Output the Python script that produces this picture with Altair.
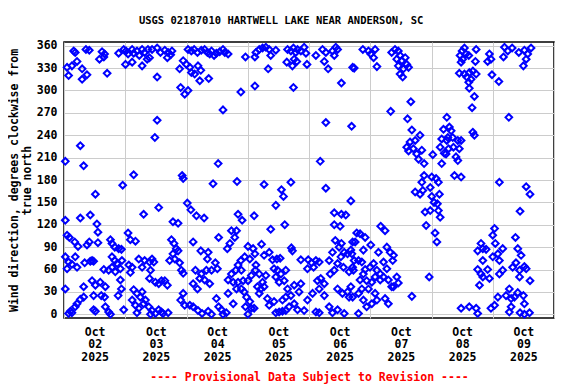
import altair as alt
import pandas as pd

# Time = hours since 2025-10-02 00:00, direction = degrees clockwise from true north
seg1_hours = [3.8, 4.4, 8.6, 9.9, 14.9, 15.9, 13.9, 15.6, 21.4, 23.4, 24.3, 25.1, 26.7, 27.3, 28.6, 29.5, 30.6,
              31.6, 32.9, 33.5, 34.5, 36.5, 37.8, 24.1, 26.7, 30.6, 32.6, 1.2, 3.1, 5.1, 1.8, 7.1, 7.1, 9.0, 16.9, 36.5,
              36.5, 35.6, 6.4, 0.5, 7.7, 27.3, 23.0, 12.3, 37.1, 31.2, 0.5, 6.4, 10.3, 12.9, 13.3, 25.1, 26.0, 28.0,
              1.2, 2.1, 4.2, 5.5, 9.0, 9.9, 13.3, 18.2, 18.8, 19.9, 21.4, 22.5, 0.5, 4.4, 11.0, 11.6, 10.3, 8.1, 18.8,
              19.9, 20.8, 22.7, 22.1, 18.8, 17.5, 15.6, 20.1, 25.4, 26.7, 26.0, 29.3, 30.6, 31.6, 33.5, 34.5, 35.2,
              1.2, 3.1, 5.1, 1.8, 33.9, 33.5, 35.8, 37.1, 38.2,
              0.5, 7.7, 11.0, 12.3, 14.2, 16.2, 11.6, 14.6, 15.9, 7.7, 6.4, 5.1, 4.4, 2.5, 1.8, 3.1, 11.6, 12.3, 16.2,
              17.5, 18.2, 21.2, 22.5, 22.1, 23.4, 27.3, 28.6, 29.9, 30.6, 26.7, 28.0, 29.3, 31.2, 31.9, 33.2, 34.5,
              35.8, 33.9, 37.1, 38.2, 28.6]
seg1_deg = [353, 351, 355, 354, 352, 349, 342, 345, 350, 355, 353, 349, 355, 350, 353, 347, 355,
            351, 355, 344, 355, 357, 351, 335, 338, 333, 342, 331, 333, 339, 320, 329, 315, 321, 323, 318,
            260, 237, 226, 205, 199, 187, 173, 161, 143, 134, 126, 129, 133, 121, 110, 109, 100, 98,
            106, 103, 97, 91, 93, 97, 96, 100, 95, 90, 88, 87, 77, 77, 72, 71, 71, 69, 77,
            72, 68, 72, 61, 63, 59, 60, 57, 66, 63, 56, 74, 63, 72, 70, 74, 70,
            61, 67, 63, 70, 59, 48, 43, 41, 45,
            34, 37, 45, 39, 43, 37, 25, 25, 23, 23, 20, 14, 10, 4, 1, 2, 6, 4, 10,
            3, 0, 25, 34, 46, 6, 33, 28, 23, 30, 19, 12, 8, 14, 19, 10, 5,
            1, 0, 6, 3, 2]

seg2 = [(39.5, 354), (40.8, 351), (41.8, 348), (42.3, 353), (40.5, 344), (48.6, 355), (49.9, 353), (51.0, 355),
        (52.3, 351), (53.8, 354), (55.1, 355), (56.2, 351), (57.1, 349), (57.8, 353), (58.8, 347), (59.7, 350),
        (61.0, 352), (62.3, 355), (63.0, 351), (64.3, 349), (46.7, 340), (48.0, 335), (49.3, 331), (49.9, 324),
        (51.2, 322), (52.5, 333), (53.6, 327), (53.2, 313), (56.7, 316), (45.3, 329), (45.7, 304), (47.3, 295),
        (48.6, 300), (69.3, 298), (71.1, 345), (74.8, 306), (74.8, 345),
        (62.3, 274), (60.4, 202), (46.3, 186), (46.7, 182), (58.4, 175), (67.8, 178), (48.3, 149), (49.7, 140),
        (51.9, 132), (54.9, 129), (42.7, 124), (44.7, 122), (68.2, 134), (69.8, 126), (74.5, 132),
        (50.6, 97), (60.6, 103), (42.1, 100), (43.1, 95), (44.0, 88), (44.7, 85), (42.7, 81), (41.4, 72),
        (43.4, 74), (45.3, 69), (46.0, 59), (46.7, 55), (53.6, 85), (56.5, 83), (56.2, 74), (65.6, 112),
        (67.6, 112), (66.9, 103), (65.0, 95), (64.0, 88), (72.1, 91), (74.1, 88), (74.8, 81), (72.8, 74),
        (70.8, 77), (69.3, 72), (68.2, 66), (67.3, 59), (65.6, 54), (69.5, 59), (59.3, 69), (60.1, 61),
        (57.8, 59), (55.8, 59), (53.8, 54), (51.5, 59),
        (50.6, 41), (52.3, 34), (53.2, 48), (55.1, 46), (57.1, 41), (64.3, 46), (66.3, 43), (68.2, 43),
        (70.2, 45), (72.1, 45), (73.4, 52), (75.0, 59), (39.5, 45), (40.5, 39),
        (46.7, 28), (45.7, 19), (47.3, 12), (49.3, 12), (50.6, 10), (52.5, 5), (54.1, 1), (56.5, 4), (57.8, 0),
        (59.7, 21), (60.6, 10), (61.7, 6), (63.6, 2), (62.3, 0), (66.3, 14), (70.6, 30), (71.5, 23), (72.8, 17),
        (71.1, 10), (73.4, 8), (72.1, 0), (64.3, 28), (67.6, 34), (69.5, 34), (38.8, 1), (40.8, 2)]

seg3 = [(75.2, 351), (76.5, 355), (77.8, 357), (79.1, 358), (80.4, 355), (81.0, 347), (83.0, 354), (87.6, 355),
        (88.9, 353), (89.9, 357), (90.8, 351), (91.5, 355), (92.8, 353), (94.1, 358), (94.8, 350), (90.2, 342),
        (91.2, 339), (89.5, 333), (87.3, 338), (95.2, 335), (98.7, 347), (101.3, 355), (102.6, 351), (102.0, 339),
        (103.5, 329), (105.2, 353), (106.5, 358), (107.2, 355), (105.9, 347), (80.0, 329), (89.9, 304),
        (108.7, 310), (113.1, 331),
        (102.6, 257), (112.7, 252), (100.4, 205), (78.4, 174), (85.2, 167), (86.0, 158), (88.9, 177),
        (102.6, 169), (83.0, 146), (112.4, 152), (81.0, 114), (86.5, 120), (105.9, 136), (108.7, 134),
        (110.4, 133), (105.9, 120), (108.2, 118), (106.3, 99), (113.1, 97),
        (77.4, 94), (78.4, 79), (80.4, 83), (81.7, 73), (83.4, 74), (84.7, 75), (89.1, 89), (89.5, 85),
        (92.8, 73), (95.7, 73), (97.0, 69), (98.7, 72), (95.4, 61), (97.8, 63), (100.0, 70), (103.9, 72),
        (105.2, 83), (107.8, 90), (108.7, 95), (109.8, 83), (111.1, 81), (112.4, 86), (108.5, 77), (107.2, 68),
        (105.9, 59), (104.3, 54), (109.5, 63), (111.7, 57), (113.1, 63),
        (75.2, 66), (76.5, 54), (79.1, 52), (77.8, 43), (82.3, 61), (83.7, 59), (85.0, 54), (83.0, 50),
        (86.9, 59), (86.3, 45), (84.3, 43), (87.6, 34), (90.2, 39), (92.8, 41), (92.1, 30), (88.9, 25),
        (86.9, 23), (85.6, 19), (82.3, 17), (80.4, 12), (79.7, 21), (77.1, 34), (78.4, 37), (75.8, 37), (76.5, 28),
        (74.5, 8), (83.0, 2), (84.3, 3), (85.6, 4), (86.9, 5), (88.2, 10), (90.2, 14), (91.5, 6), (94.1, 5),
        (95.4, 19), (97.4, 28), (99.3, 45), (100.6, 48), (102.0, 41), (100.0, 34), (102.0, 25), (98.7, 3),
        (100.0, 2), (103.9, 10), (105.2, 2), (107.2, 6), (109.8, 1), (107.2, 34), (109.1, 28), (111.1, 30),
        (112.4, 37), (111.7, 23)]

seg4 = [(117.1, 355), (119.3, 353), (120.2, 349), (121.9, 355), (121.3, 344), (122.6, 332), (113.7, 330),
        (128.4, 351), (129.7, 355), (131.0, 353), (131.7, 347), (130.4, 342), (132.4, 340), (133.7, 344),
        (134.3, 335), (133.0, 329), (131.7, 322), (132.7, 318), (135.0, 331), (131.0, 333),
        (135.9, 285), (128.0, 272), (134.6, 262), (136.3, 247), (139.5, 240), (137.6, 233), (135.6, 231),
        (135.0, 219), (134.3, 224), (136.9, 222), (138.2, 215), (140.2, 220), (138.9, 208), (141.1, 202),
        (144.5, 214), (148.0, 202), (149.0, 216), (150.0, 264), (148.7, 248), (148.0, 235), (150.0, 233),
        (147.4, 224),
        (141.1, 186), (140.2, 177), (144.1, 184), (145.8, 182), (143.5, 170), (146.7, 177), (137.6, 164),
        (139.5, 161), (140.6, 166), (144.1, 158), (147.1, 161), (145.0, 150), (146.3, 148), (143.5, 139),
        (141.5, 137), (146.7, 139), (147.4, 130), (141.9, 119), (145.4, 109), (146.1, 97),
        (124.1, 118), (125.8, 112), (114.7, 109), (116.0, 108), (118.0, 103), (114.1, 97), (117.3, 86),
        (120.2, 93), (123.2, 83), (126.5, 90), (127.8, 83), (128.8, 72), (129.1, 79), (112.8, 81), (113.7, 72),
        (115.4, 72), (116.7, 70), (113.4, 59), (118.0, 60), (119.9, 63), (121.3, 68), (122.6, 59), (123.9, 54),
        (125.2, 70), (126.5, 61), (117.3, 54), (116.0, 46), (118.6, 45), (120.6, 43), (121.9, 50), (123.9, 46),
        (125.2, 50), (127.1, 46), (128.4, 37), (130.4, 50), (131.0, 42), (129.1, 37),
        (116.7, 34), (119.3, 34), (121.9, 28), (115.4, 28), (113.1, 23), (117.3, 19), (118.6, 10), (120.6, 14),
        (122.6, 19), (125.8, 21), (127.1, 14), (115.4, 1), (136.3, 24), (143.1, 50)]

seg5 = [(156.9, 357), (156.0, 353), (155.2, 347), (156.2, 342), (155.6, 338), (157.5, 349), (158.6, 347),
        (161.5, 355), (161.2, 339), (166.7, 349), (167.3, 342), (166.0, 339), (172.6, 358), (173.9, 353),
        (172.2, 345), (175.6, 357), (178.2, 351), (180.4, 354), (181.7, 349), (183.0, 357), (181.1, 342),
        (180.0, 333), (154.9, 323), (156.9, 322), (157.8, 318), (158.8, 324), (160.2, 326), (161.5, 322),
        (159.5, 315), (158.6, 311), (158.8, 303), (160.8, 292), (159.9, 277), (167.7, 321), (170.4, 312),
        (151.0, 251), (151.7, 246), (150.4, 237), (152.3, 237), (154.3, 233), (155.6, 233), (150.7, 222),
        (152.6, 224), (154.9, 222), (153.6, 211), (154.3, 206), (149.7, 215), (160.2, 244), (160.8, 240),
        (153.0, 186), (155.6, 184), (174.3, 264), (170.6, 177), (181.1, 171), (182.6, 161), (178.7, 138),
        (168.7, 115), (168.0, 106), (169.0, 95), (171.9, 88), (163.4, 95), (164.1, 88), (162.1, 85), (165.4, 87),
        (168.0, 77), (170.0, 81), (170.6, 72), (164.1, 72), (162.1, 60), (163.4, 54), (166.0, 60), (166.7, 48),
        (164.1, 50), (162.8, 39), (171.9, 59), (170.6, 54), (175.8, 63), (177.1, 69), (178.5, 59), (180.4, 64),
        (181.1, 61), (176.9, 103), (177.8, 88), (179.1, 79), (178.5, 50), (182.6, 45),
        (174.5, 34), (173.2, 25), (175.2, 21), (176.5, 23), (177.8, 29), (180.0, 25), (180.4, 14), (170.0, 23),
        (168.7, 12), (167.3, 8), (175.2, 10), (174.5, 3), (178.7, 2), (180.4, 0), (182.4, 2), (155.6, 8),
        (158.8, 10), (161.5, 8), (162.1, 1)]

day_labels = ["02", "03", "04", "05", "06", "07", "08", "09"]
y_ticks = list(range(0, 361, 30))
x_ticks = list(range(0, 193, 12))
title_text = "USGS 02187010 HARTWELL LAKE NEAR ANDERSON, SC"
y_title = ["Wind direction, degrees clockwise from", "true north"]
footer = "---- Provisional Data Subject to Revision ----"

records = list(zip(seg1_hours, seg1_deg)) + seg2 + seg3 + seg4 + seg5
df = pd.DataFrame(records, columns=["hours", "direction"])

FONT = "DejaVu Sans Mono"
label_expr = ("datum.value % 24 == 12 ? ['Oct', " + str(day_labels)
              + "[floor(datum.value / 24)], '2025'] : ''")

chart = alt.Chart(df).mark_point(
    shape="diamond", filled=False, color="#0000FF", size=45, strokeWidth=2, opacity=1
).encode(
    x=alt.X("hours:Q",
            scale=alt.Scale(domain=[0, 192], nice=False, zero=False),
            axis=alt.Axis(values=x_ticks, labelExpr=label_expr, grid=True, gridColor="#CCCCCC",
                          gridOpacity={"condition": {"test": "datum.value % 24 == 0", "value": 1}, "value": 0},
                          ticks=False, tickSize=0, domain=False, labelFont=FONT, labelFontSize=11.5,
                          labelFontWeight="bold", labelColor="black", labelPadding=8, labelLineHeight=12.7,
                          labelAngle=0, labelOverlap=False, labelFlush=False,
                          title=footer, titleColor="#FF0000", titleFont=FONT, titleFontSize=11.5,
                          titleFontWeight="bold", titlePadding=9)),
    y=alt.Y("direction:Q",
            scale=alt.Scale(domain=[-5, 365], nice=False, zero=False),
            axis=alt.Axis(values=y_ticks, grid=True, gridColor="#CCCCCC", ticks=False, tickSize=0,
                          domain=False, labelFont=FONT, labelFontSize=11.5, labelFontWeight="bold",
                          labelColor="black", labelPadding=7,
                          title=y_title, titleFont=FONT, titleFontSize=11.5, titleFontWeight="bold",
                          titleColor="black", titlePadding=4, titleLineHeight=13)),
).properties(
    width=490, height=276,
    title=alt.TitleParams(text=title_text, font=FONT, fontSize=10.5, fontWeight="bold", color="black",
                          anchor="middle", frame="bounds", offset=13),
    padding={"left": 0, "top": 8, "right": 5, "bottom": 0},
).configure_view(stroke="black", strokeWidth=1.5)

chart.save("out.html", embed_options={"renderer": "svg", "actions": False})
